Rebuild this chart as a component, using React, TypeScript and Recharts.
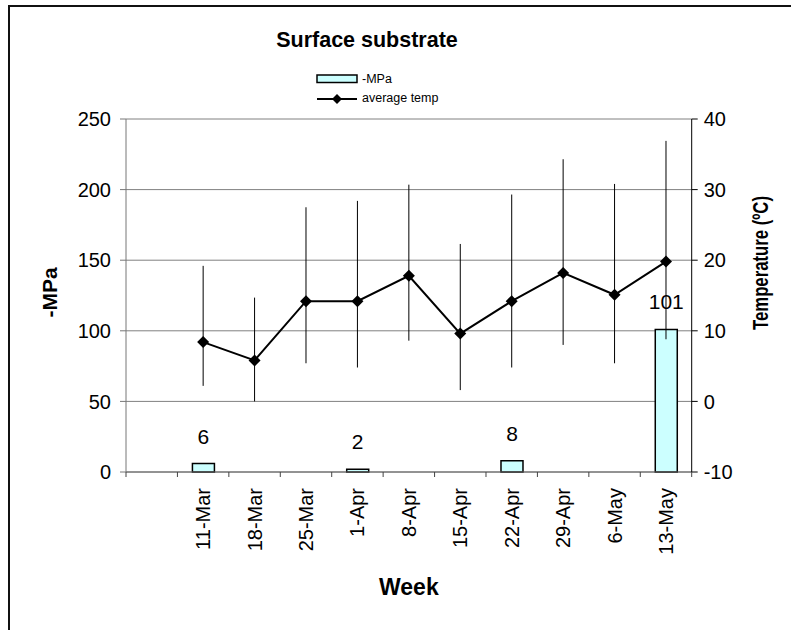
import React from "react";
import {
  ComposedChart,
  Bar,
  Line,
  XAxis,
  YAxis,
  CartesianGrid,
  ErrorBar,
  LabelList,
  Label,
} from "recharts";

const FONT = '"Liberation Sans", Arial, sans-serif';

const weeks = ["", "11-Mar", "18-Mar", "25-Mar", "1-Apr", "8-Apr", "15-Apr", "22-Apr", "29-Apr", "6-May", "13-May"];
const mpa = [null, 6, null, null, 2, null, null, 8, null, null, 101];
const avgTemp = [null, 8.4, 5.8, 14.2, 14.2, 17.8, 9.6, 14.2, 18.2, 15.1, 19.8];
const tempMax = [null, 19.2, 14.7, 27.5, 28.4, 30.7, 22.3, 29.3, 34.3, 30.8, 36.9];
const tempMin = [null, 2.2, 0, 5.4, 4.8, 8.6, 1.6, 4.8, 8.0, 5.4, 8.8];

const mpaTicks = [0, 50, 100, 150, 200, 250];
const tempTicks = [-10, 0, 10, 20, 30, 40];

const rows = weeks.map((week, i) => ({
  week,
  mpa: mpa[i],
  temp: avgTemp[i],
  tempErr: avgTemp[i] == null ? null : [avgTemp[i]! - tempMin[i]!, tempMax[i]! - avgTemp[i]!],
}));

const W = 791;
const H = 630;
const LEFT_W = 126;
const RIGHT_W = 99.3;
const BAND = (W - LEFT_W - RIGHT_W) / weeks.length;
const TICK = 5;
const TICK_GAP = 11;

function WeekTick(props: any) {
  const { x, y, payload, index } = props;
  const top = y - TICK_GAP - TICK;
  return (
    <g>
      <line x1={x - BAND / 2} x2={x - BAND / 2} y1={top} y2={top + TICK} stroke="#444" />
      {index === weeks.length - 1 && (
        <line x1={x + BAND / 2} x2={x + BAND / 2} y1={top} y2={top + TICK} stroke="#444" />
      )}
      <text
        x={x}
        y={y}
        dy="0.35em"
        transform={`rotate(-90, ${x}, ${y})`}
        textAnchor="end"
        fontSize={20}
        fontFamily={FONT}
        fill="#000"
      >
        {payload.value}
      </text>
    </g>
  );
}

function Diamond(props: any) {
  const { cx, cy } = props;
  if (cx == null || cy == null || props.value == null) return null;
  const r = 6;
  return (
    <polygon
      points={`${cx},${cy - r} ${cx + r},${cy} ${cx},${cy + r} ${cx - r},${cy}`}
      fill="#000"
    />
  );
}

export default function App() {
  return (
    <div style={{ position: "fixed", left: 0, top: 0, width: W, height: H, overflow: "hidden", background: "#fff" }}>
      <div
        style={{
          position: "absolute",
          left: 8,
          top: 5,
          width: 900,
          height: 800,
          borderLeft: "2px solid #111",
          borderTop: "2px solid #111",
        }}
      />
      <div style={{ position: "absolute", left: 0, top: 0 }}>
        <ComposedChart width={W} height={H} data={rows} margin={{ top: 119, right: 0, bottom: 0, left: 0 }}>
          <CartesianGrid yAxisId="left" vertical={false} stroke="#808080" />
          <XAxis
            dataKey="week"
            interval={0}
            height={H - 472}
            tick={<WeekTick />}
            tickLine={false}
            tickSize={TICK}
            tickMargin={TICK_GAP}
            axisLine={{ stroke: "#666" }}
          >
            <Label
              content={({ viewBox }: any) => (
                <text
                  x={viewBox.x + viewBox.width / 2}
                  y={595}
                  textAnchor="middle"
                  fontSize={23}
                  fontWeight="bold"
                  fontFamily={FONT}
                  fill="#000"
                >
                  Week
                </text>
              )}
            />
          </XAxis>
          <YAxis
            yAxisId="left"
            width={LEFT_W}
            domain={[0, 250]}
            ticks={mpaTicks}
            tick={{ fontSize: 20, fontFamily: FONT, fill: "#000" }}
            tickSize={6}
            tickMargin={9}
            stroke="#777"
          >
            <Label
              content={({ viewBox }: any) => {
                const cx = viewBox.x + 50;
                const cy = viewBox.y + viewBox.height / 2 - 3;
                return (
                  <text
                    x={cx}
                    y={cy}
                    dy="0.35em"
                    transform={`rotate(-90, ${cx}, ${cy})`}
                    textAnchor="middle"
                    fontSize={21}
                    fontWeight="bold"
                    fontFamily={FONT}
                    fill="#000"
                  >
                    -MPa
                  </text>
                );
              }}
            />
          </YAxis>
          <YAxis
            yAxisId="right"
            orientation="right"
            width={RIGHT_W}
            domain={[-10, 40]}
            ticks={tempTicks}
            tick={{ fontSize: 20, fontFamily: FONT, fill: "#000" }}
            tickSize={6}
            tickMargin={6}
            stroke="#000"
          >
            <Label
              content={({ viewBox }: any) => {
                const cx = viewBox.x + 69;
                const cy = 263;
                return (
                  <text
                    x={cx}
                    y={cy}
                    dy="0.35em"
                    transform={`rotate(-90, ${cx}, ${cy})`}
                    textAnchor="middle"
                    fontSize={22}
                    fontWeight="bold"
                    fontFamily={FONT}
                    textLength={134}
                    lengthAdjust="spacingAndGlyphs"
                    fill="#000"
                  >
                    Temperature (ºC)
                  </text>
                );
              }}
            />
          </YAxis>
          <Bar
            yAxisId="left"
            dataKey="mpa"
            name="-MPa"
            barSize={22}
            fill="#CCFFFF"
            stroke="#000"
            strokeWidth={1.5}
            isAnimationActive={false}
          >
            <LabelList dataKey="mpa" position="top" offset={20} fontSize={21} fontFamily={FONT} fill="#000" />
          </Bar>
          <Line
            yAxisId="right"
            dataKey="temp"
            name="average temp"
            stroke="#000"
            strokeWidth={2}
            dot={<Diamond />}
            activeDot={false}
            isAnimationActive={false}
          >
            <ErrorBar dataKey="tempErr" width={0} stroke="#000" strokeWidth={1} direction="y" />
          </Line>
        </ComposedChart>
      </div>
      <svg width={W} height={H} style={{ position: "absolute", left: 0, top: 0, pointerEvents: "none" }}>
        <text x={367} y={47} textAnchor="middle" fontSize={21.5} fontWeight="bold" fontFamily={FONT} fill="#000">
          Surface substrate
        </text>
        <rect x={317} y={75} width={40} height={7.5} fill="#CCFFFF" stroke="#000" strokeWidth={1.5} />
        <text x={362} y={83} fontSize={12.5} fontFamily={FONT} fill="#000">
          -MPa
        </text>
        <line x1={317} x2={357} y1={99} y2={99} stroke="#000" strokeWidth={2} />
        <polygon points="337,94 342,99 337,104 332,99" fill="#000" />
        <text x={362} y={102} fontSize={12.5} fontFamily={FONT} fill="#000">
          average temp
        </text>
      </svg>
    </div>
  );
}
